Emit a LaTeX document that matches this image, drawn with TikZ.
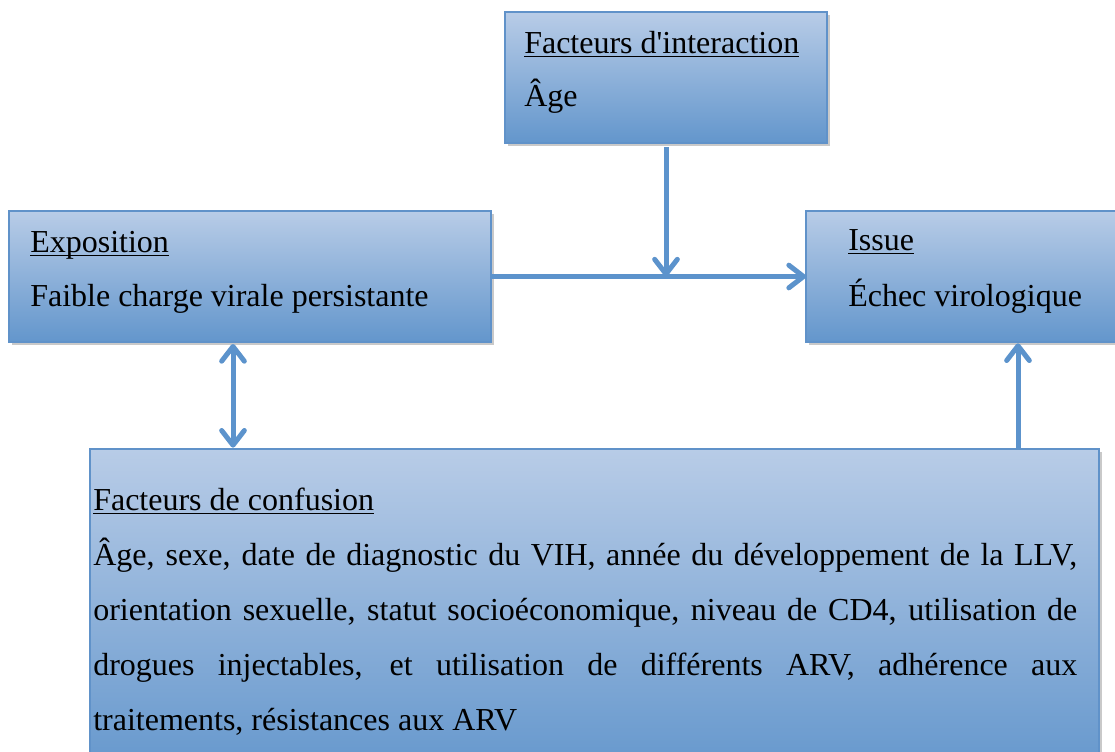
\documentclass[tikz,border=0pt]{standalone}
\usepackage{fontspec}
\setmainfont{Liberation Serif}
\usetikzlibrary{arrows.meta,shadows,calc}
\definecolor{boxtop}{RGB}{184,204,231}
\definecolor{boxbot}{RGB}{99,150,204}
\definecolor{boxline}{RGB}{96,146,201}
\definecolor{arrowc}{RGB}{92,147,204}
\newcommand\ulx[1]{\setbox0\hbox{#1}\rlap{\rule[-3pt]{\wd0}{0.9pt}}\box0}
\begin{document}
\begin{tikzpicture}[x=0.75pt,y=-0.75pt,
  box/.style={rectangle, draw=boxline, line width=1.5pt, top color=boxtop, bottom color=boxbot,
    inner sep=0pt, outer sep=0pt,
    drop shadow={shadow xshift=2pt, shadow yshift=-2.5pt, opacity=0.3, fill=black!70}},
  txt/.style={anchor=base west, inner sep=0pt, font=\fontsize{24}{41.25}\selectfont},
  conn/.style={draw=arrowc, line width=3.75pt},
  tip/.style={-{Straight Barb[length=11pt,width=17pt,round]}},
  tips/.style={{Straight Barb[length=11pt,width=17pt,round]}-{Straight Barb[length=11pt,width=17pt,round]}}
]
\clip (0,0) rectangle (1115,751);
\node[box, minimum width=241.5pt, minimum height=98.25pt] (inter) at (666,77.5) {};
\node[box, minimum width=361.5pt, minimum height=98.25pt] (ex) at (250,276.5) {};
\node[box, minimum width=243pt, minimum height=98.25pt] (iss) at (968,276.5) {};
\node[box, minimum width=756.75pt, minimum height=248.25pt] (conf) at (594.5,614.5) {};

\node[txt] (t1) at (524,53) {\ulx{Facteurs d\textquotesingle interaction}};
\node[txt] (t2) at (524,106) {Âge};
\node[txt] (t3) at (30,252) {\ulx{Exposition}};
\node[txt] (t4) at (30,306) {Faible charge virale persistante};
\node[txt] (t5) at (848,250) {\ulx{Issue}};
\node[txt] (t6) at (848,306) {Échec virologique};
\node[txt] (t7) at (93,510) {\ulx{Facteurs de confusion}};
\node[txt] (t8) at (93,565) {\makebox[738pt][s]{Âge, sexe, date de diagnostic du VIH, année du développement de la LLV,}};
\node[txt] (t9) at (93,620) {\makebox[738pt][s]{orientation sexuelle, statut socioéconomique, niveau de CD4, utilisation de}};
\node[txt] (t10) at (93,675) {\makebox[738pt][s]{drogues injectables, et utilisation de différents ARV, adhérence aux}};
\node[txt] (t11) at (93,730) {traitements, résistances aux ARV};

\draw[conn, tip] (ex.east) -- (iss.west);
\draw[conn, tip] ([yshift=-3pt]inter.south) -- (inter.south |- ex.east);
\coordinate (da) at ($(ex.south west)+(224,0)$);
\draw[conn, tips] ([yshift=-1.5pt]da) -- ([yshift=1pt]da |- conf.north);
\coordinate (ua) at ($(conf.north west)+(928,0)$);
\draw[conn, tip] (ua) -- ([yshift=-1pt]ua |- iss.south);
\end{tikzpicture}
\end{document}
